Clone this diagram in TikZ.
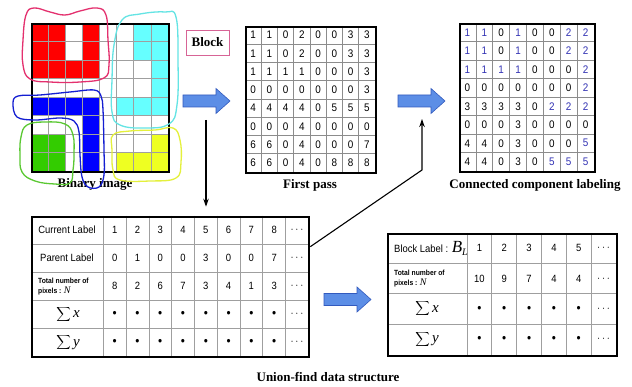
\documentclass[tikz,border=0pt]{standalone}
\usepackage{fontspec}
\setmainfont{Liberation Serif}
\newfontfamily\tsans[FakeStretch=0.9]{Liberation Sans}
\usetikzlibrary{arrows.meta}
\definecolor{cellR}{RGB}{255,0,0}
\definecolor{cellC}{RGB}{102,255,255}
\definecolor{cellB}{RGB}{0,0,255}
\definecolor{cellG}{RGB}{51,204,0}
\definecolor{cellY}{RGB}{238,255,34}
\definecolor{cellW}{RGB}{255,255,255}
\definecolor{blobR}{RGB}{228,48,110}
\definecolor{blobC}{RGB}{100,228,228}
\definecolor{blobB}{RGB}{20,30,210}
\definecolor{blobG}{RGB}{90,200,50}
\definecolor{blobY}{RGB}{228,240,60}
\definecolor{afill}{RGB}{92,142,230}
\definecolor{adraw}{RGB}{50,90,190}
\definecolor{lblue}{RGB}{50,50,180}
\definecolor{blockpink}{RGB}{215,100,150}
\newcommand{\bdot}{{\fontsize{13}{13}\selectfont\textbullet}}
\begin{document}
\begin{tikzpicture}[x=1pt,y=-1pt,
  gridline/.style={gray!75, line width=0.7pt},
  gridframe/.style={draw=black, line width=2pt, inner sep=0pt, anchor=north west},
  digit/.style={font=\tsans\fontsize{11}{11}\selectfont, inner sep=0pt},
  title/.style={font=\bfseries\fontsize{13}{13}\selectfont, inner sep=0pt},
  blob/.style={line width=1.3pt},
  thinarrow/.style={line width=1.1pt, -{Stealth[length=8pt,width=5.5pt]}},
  tabtext/.style={font=\tsans\fontsize{10.5}{11}\selectfont, inner sep=0pt},
  smalltext/.style={font=\tsans\bfseries\fontsize{7.5}{10}\selectfont, inner sep=0pt, align=left, anchor=west},
  sumtext/.style={inner sep=0pt, font=\fontsize{14}{14}\selectfont},
  fatarrow/.pic={\filldraw[fill=afill, draw=adraw, line width=0.6pt]
     (0,-6) -- (33,-6) -- (33,-12.5) -- (47,0) -- (33,12.5) -- (33,6) -- (0,6) -- cycle;}
]
\useasboundingbox (0,0) rectangle (632,387);
\fill[white] (0,0) rectangle (632,387);

% ---------- binary image ----------
\def\bx{31}\def\by{23}\def\bw{17.125}\def\bh{18.5}
\foreach \r [count=\i from 0] in {{R,R,W,R,W,W,C,C},{R,R,W,R,W,W,C,C},{R,R,R,R,W,W,W,C},{W,W,W,W,W,W,W,C},{B,B,B,B,W,C,C,C},{W,W,W,B,W,W,W,W},{G,G,W,B,W,W,W,Y},{G,G,W,B,W,Y,Y,Y}}
  \foreach \v [count=\j from 0] in \r
    \fill[cell\v] ({\bx+\bw*\j},{\by+\bh*\i}) rectangle ++(\bw,\bh);
\foreach \k in {1,...,7} {
  \draw[gridline] ({\bx+\bw*\k},\by) -- ++(0,148);
  \draw[gridline] (\bx,{\by+\bh*\k}) -- ++(137,0);
}
\node[gridframe, minimum width=137pt, minimum height=148pt] (bin) at (\bx,\by) {};

% ---------- first pass ----------
\def\fx{245}\def\fy{26}\def\fw{16.25}\def\fh{18.25}
\foreach \k in {1,...,7} {
  \draw[gridline, gray!90] ({\fx+\fw*\k},\fy) -- ++(0,146);
  \draw[gridline, gray!90] (\fx,{\fy+\fh*\k}) -- ++(130,0);
}
\foreach \r [count=\i from 0] in {{1,1,0,2,0,0,3,3},{1,1,0,2,0,0,3,3},{1,1,1,1,0,0,0,3},{0,0,0,0,0,0,0,3},{4,4,4,4,0,5,5,5},{0,0,0,4,0,0,0,0},{6,6,0,4,0,0,0,7},{6,6,0,4,0,8,8,8}}
  \foreach \v [count=\j from 0] in \r
    \node[digit] at ({\fx+\fw*(\j+0.5)},{\fy+\fh*(\i+0.5)}) {\v};
\node[gridframe, minimum width=130pt, minimum height=146pt] (fp) at (\fx,\fy) {};

% ---------- connected component labeling ----------
\def\cx{459}\def\cy{23}\def\cw{16.875}\def\ch{18.5}
\foreach \k in {1,...,7} {
  \draw[gridline, gray!90] ({\cx+\cw*\k},\cy) -- ++(0,148);
  \draw[gridline, gray!90] (\cx,{\cy+\ch*\k}) -- ++(135,0);
}
\foreach \r [count=\i from 0] in {{1,1,0,1,0,0,2,2},{1,1,0,1,0,0,2,2},{1,1,1,1,0,0,0,2},{0,0,0,0,0,0,0,2},{3,3,3,3,0,2,2,2},{0,0,0,3,0,0,0,0},{4,4,0,3,0,0,0,5},{4,4,0,3,0,5,5,5}}
  \foreach \v [count=\j from 0] in \r {
    \def\cc{black}
    \ifcase\v\or\def\cc{lblue}\or\def\cc{lblue}\or\or\or\def\cc{lblue}\fi
    \node[digit, text=\cc] at ({\cx+\cw*(\j+0.5)},{\cy+\ch*(\i+0.5)}) {\v};
  }
\node[gridframe, minimum width=135pt, minimum height=148pt] (ccl) at (\cx,\cy) {};

% ---------- labels ----------
\node[title] (binlbl) at (95,184) {Binary image};
\node[title] (fplbl) at (310,185) {First pass};
\node[title] (ccllbl) at (535,185) {Connected component labeling};
\node[title] (uflbl) at (328,377) {Union-find data structure};
\node[title, draw=blockpink, line width=0.8pt, minimum width=43pt, minimum height=25pt] (block) at (207.5,42.5) {Block};

% ---------- blobs ----------
\draw[blob, blobR] plot[smooth cycle, tension=0.7] coordinates {(23,40) (26,15) (34,8) (50,12) (65,15) (80,11) (97,8) (106,15) (108,40) (109,65) (104,78) (80,82) (50,82) (30,79) (23,65)};
\draw[blob, blobC] plot[smooth cycle, tension=0.7] coordinates {(122,20) (140,14) (165,12) (176,17) (178,60) (177,105) (169,124) (145,128) (120,125) (112,112) (112,80) (114,45)};
\draw[blob, blobB] plot[smooth cycle, tension=0.6] coordinates {(13,103) (18,96) (40,95) (70,92) (94,90) (101,96) (103,110) (104,150) (104,175) (99,187) (88,187) (82,177) (80,155) (79,132) (74,121) (60,118) (35,120) (17,117)};
\draw[blob, blobG] plot[smooth cycle, tension=0.7] coordinates {(27,125) (45,122) (65,124) (73,135) (74,155) (73,170) (70,183) (55,184) (35,181) (22,172) (20,155) (21,137)};
\draw[blob, blobY] plot[smooth cycle, tension=0.7] coordinates {(113,135) (130,131) (155,130) (173,128) (180,140) (181,162) (176,178) (150,181) (120,180) (113,170) (112,150)};

% ---------- fat arrows ----------
\pic (fa1) at (183,101) {fatarrow};
\pic (fa2) at (398,101) {fatarrow};
\pic (fa3) at (324,299.5) {fatarrow};

% ---------- union-find table ----------
\def\tx{103.3}\def\tw{22.78}\def\ty{215.7}\def\th{28.16}
\foreach \k in {0,...,8} \draw[gridline] ({\tx+\tw*\k},\ty) -- ++(0,140.8);
\foreach \k in {1,...,4} \draw[gridline] (30.7,{\ty+\th*\k}) -- (308.3,{\ty+\th*\k});
\node[gridframe, minimum width=277.6pt, minimum height=140.8pt] (uf) at (30.7,\ty) {};
\node[tabtext] (ufh0) at (67,{\ty+\th*0.5}) {Current Label};
\node[tabtext] (ufh1) at (67,{\ty+\th*1.5}) {Parent Label};
\node[smalltext] (ufh2) at (38,{\ty+\th*2.5}) {Total number of\\pixels : {\rmfamily\mdseries\itshape\fontsize{10}{10}\selectfont N}};
\node[sumtext] (ufh3) at (68,{\ty+\th*3.5}) {$\displaystyle\sum$\,{\fontsize{15}{15}\selectfont\itshape x}};
\node[sumtext] (ufh4) at (68,{\ty+\th*4.5}) {$\displaystyle\sum$\,{\fontsize{15}{15}\selectfont\itshape y}};
\foreach \row/\vals in {0/{1,2,3,4,5,6,7,8,$\cdots$},1/{0,1,0,0,3,0,0,7,$\cdots$},2/{8,2,6,7,3,4,1,3,$\cdots$},3/{\bdot,\bdot,\bdot,\bdot,\bdot,\bdot,\bdot,\bdot,$\cdots$},4/{\bdot,\bdot,\bdot,\bdot,\bdot,\bdot,\bdot,\bdot,$\cdots$}}
  \foreach \v [count=\j from 0] in \vals
    \node[tabtext] at ({\tx+\tw*(\j+0.5)},{\ty+\th*(\row+0.5)}) {\v};

% ---------- block table ----------
\def\sx{467}\def\sw{24.83}\def\sy{233}\def\sh{30.4}
\foreach \k in {0,...,5} \draw[gridline] ({\sx+\sw*\k},\sy) -- ++(0,121.6);
\foreach \k in {1,...,3} \draw[gridline] (387,{\sy+\sh*\k}) -- (616,{\sy+\sh*\k});
\node[gridframe, minimum width=229pt, minimum height=121.6pt] (bl) at (387,\sy) {};
\node[tabtext, anchor=west] (blh0) at (394,{\sy+\sh*0.5}) {Block Label : {\rmfamily\itshape\fontsize{17}{17}\selectfont B\raisebox{-3pt}{\fontsize{10}{10}\selectfont L}}};
\node[smalltext] (blh1) at (394,{\sy+\sh*1.5}) {Total number of\\pixels : {\rmfamily\mdseries\itshape\fontsize{10}{10}\selectfont N}};
\node[sumtext] (blh2) at (427,{\sy+\sh*2.5}) {$\displaystyle\sum$\,{\fontsize{15}{15}\selectfont\itshape x}};
\node[sumtext] (blh3) at (427,{\sy+\sh*3.5}) {$\displaystyle\sum$\,{\fontsize{15}{15}\selectfont\itshape y}};
\foreach \row/\vals in {0/{1,2,3,4,5,$\cdots$},1/{10,9,7,4,4,$\cdots$},2/{\bdot,\bdot,\bdot,\bdot,\bdot,$\cdots$},3/{\bdot,\bdot,\bdot,\bdot,\bdot,$\cdots$}}
  \foreach \v [count=\j from 0] in \vals
    \node[tabtext] at ({\sx+\sw*(\j+0.5)},{\sy+\sh*(\row+0.5)}) {\v};

% ---------- thin connectors ----------
\coordinate (dn) at (206,120);
\draw[thinarrow, shorten >=9pt] (dn) -- (dn |- uf.north);
\coordinate (lk) at ([yshift=-31pt]uf.north east);
\coordinate (bend) at (422,170);
\coordinate (tip) at (422,119);
\draw[thinarrow] (lk) -- (bend) -- (tip);
\end{tikzpicture}
\end{document}
